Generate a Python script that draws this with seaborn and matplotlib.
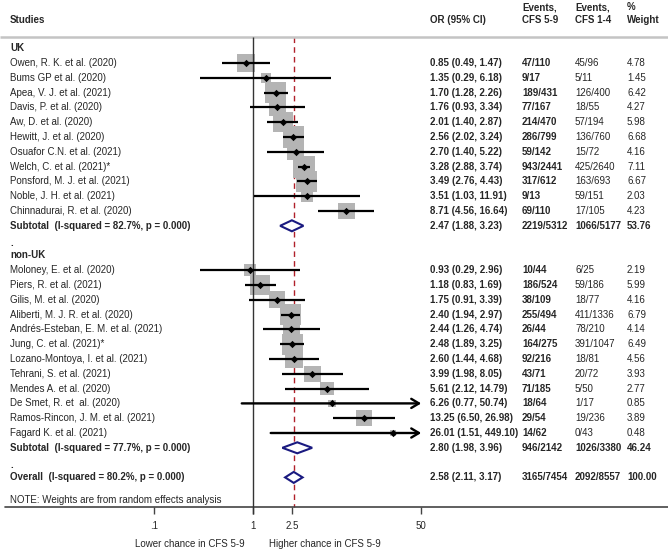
import numpy as np
import pandas as pd
import seaborn as sns
import matplotlib.pyplot as plt
from matplotlib.transforms import blended_transform_factory

# study data

uk_names = ['Owen, R. K. et al. (2020)', 'Bums GP et al. (2020)', 'Apea, V. J. et al. (2021)',
            'Davis, P. et al. (2020)', 'Aw, D. et al. (2020)', 'Hewitt, J. et al. (2020)',
            'Osuafor C.N. et al. (2021)', 'Welch, C. et al. (2021)*', 'Ponsford, M. J. et al. (2021)',
            'Noble, J. H. et al. (2021)', 'Chinnadurai, R. et al. (2020)']
uk_or = [0.85, 1.35, 1.70, 1.76, 2.01, 2.56, 2.70, 3.28, 3.49, 3.51, 8.71]
uk_lo = [0.49, 0.29, 1.28, 0.93, 1.40, 2.02, 1.40, 2.88, 2.76, 1.03, 4.56]
uk_hi = [1.47, 6.18, 2.26, 3.34, 2.87, 3.24, 5.22, 3.74, 4.43, 11.91, 16.64]
uk_ev59 = ['47/110', '9/17', '189/431', '77/167', '214/470', '286/799', '59/142', '943/2441',
           '317/612', '9/13', '69/110']
uk_ev14 = ['45/96', '5/11', '126/400', '18/55', '57/194', '136/760', '15/72', '425/2640',
           '163/693', '59/151', '17/105']
uk_wt = [4.78, 1.45, 6.42, 4.27, 5.98, 6.68, 4.16, 7.11, 6.67, 2.03, 4.23]
uk_sub = ['Subtotal  (I-squared = 82.7%, p = 0.000)', 2.47, 1.88, 3.23, '2219/5312', '1066/5177', 53.76]

non_names = ['Moloney, E. et al. (2020)', 'Piers, R. et al. (2021)', 'Gilis, M. et al. (2020)',
             'Aliberti, M. J. R. et al. (2020)', 'Andrés-Esteban, E. M. et al. (2021)',
             'Jung, C. et al. (2021)*', 'Lozano-Montoya, I. et al. (2021)', 'Tehrani, S. et al. (2021)',
             'Mendes A. et al. (2020)', 'De Smet, R. et  al. (2020)', 'Ramos-Rincon, J. M. et al. (2021)',
             'Fagard K. et al. (2021)']
non_or = [0.93, 1.18, 1.75, 2.40, 2.44, 2.48, 2.60, 3.99, 5.61, 6.26, 13.25, 26.01]
non_lo = [0.29, 0.83, 0.91, 1.94, 1.26, 1.89, 1.44, 1.98, 2.12, 0.77, 6.50, 1.51]
non_hi = [2.96, 1.69, 3.39, 2.97, 4.74, 3.25, 4.68, 8.05, 14.79, 50.74, 26.98, 449.10]
non_ev59 = ['10/44', '186/524', '38/109', '255/494', '26/44', '164/275', '92/216', '43/71',
            '71/185', '18/64', '29/54', '14/62']
non_ev14 = ['6/25', '59/186', '18/77', '411/1336', '78/210', '391/1047', '18/81', '20/72',
            '5/50', '1/17', '19/236', '0/43']
non_wt = [2.19, 5.99, 4.16, 6.79, 4.14, 6.49, 4.56, 3.93, 2.77, 0.85, 3.89, 0.48]
non_sub = ['Subtotal  (I-squared = 77.7%, p = 0.000)', 2.80, 1.98, 3.96, '946/2142', '1026/3380', 46.24]

overall = ['Overall  (I-squared = 80.2%, p = 0.000)', 2.58, 2.11, 3.17, '3165/7454', '2092/8557', 100.00]

tick_vals = [0.1, 1, 2.5, 50]
tick_labels = ['.1', '1', '2.5', '50']

# build table of rows

studies = pd.DataFrame({
    'name': uk_names + non_names,
    'or': uk_or + non_or, 'lo': uk_lo + non_lo, 'hi': uk_hi + non_hi,
    'ev59': uk_ev59 + non_ev59, 'ev14': uk_ev14 + non_ev14, 'wt': uk_wt + non_wt,
    'row': list(range(1, 12)) + list(range(15, 27)),
})
pooled = pd.DataFrame([uk_sub, non_sub, overall],
                      columns=['name', 'or', 'lo', 'hi', 'ev59', 'ev14', 'wt'])
pooled['row'] = [12, 27, 29]

row0, step = 48.2, 14.8
studies['y'] = row0 + step * studies['row']
pooled['y'] = row0 + step * pooled['row']
clip_hi = 50

sns.set_style('white')
plt.rcParams['font.family'] = ['Liberation Sans', 'DejaVu Sans']

W, H = 668, 552
fig = plt.figure(figsize=(W / 100, H / 100), dpi=100)
ax = fig.add_axes([0, 0, 1, 1])
ax.set_xscale('log')
x_one, decade = 253, 99
ax.set_xlim(10 ** (-x_one / decade), 10 ** ((W - x_one) / decade))
ax.set_ylim(H, 0)
ax.axis('off')

fs = 7
tr = blended_transform_factory(ax.transAxes, ax.transData)

def col_text(px, y, s, bold=False, **kw):
    ax.text(px / W, y, s, transform=tr, fontsize=fs, va='center',
            fontweight='bold' if bold else 'normal', **kw)

# header
col_text(10, 20, 'Studies', bold=True)
col_text(430, 20, 'OR (95% CI)', bold=True)
col_text(522, 7, 'Events,', bold=True)
col_text(522, 20, 'CFS 5-9', bold=True)
col_text(575, 7, 'Events,', bold=True)
col_text(575, 20, 'CFS 1-4', bold=True)
col_text(627, 7, '%', bold=True)
col_text(627, 20, 'Weight', bold=True)
ax.plot([0, 1], [37, 37], transform=tr, color='#c4c4c4', lw=1.8, solid_capstyle='butt')

# reference lines
top, base = 37, 507
ax.vlines(1, top, base + 7, color='#333333', lw=1.0, zorder=3)
ax.vlines(overall[1], top, base, color='#b0202a', lw=1.0, linestyles=(0, (4, 3)), zorder=1)

# weight boxes
box_sizes = {w: 35.3 * w for w in studies['wt']}
sns.scatterplot(data=studies, x='or', y='y', size='wt', sizes=box_sizes, marker='s',
                color='#b4b4b4', linewidth=0, legend=False, ax=ax, zorder=2)

# confidence intervals, arrows when clipped
for _, r in studies.iterrows():
    if r['hi'] > clip_hi:
        ax.annotate('', xy=(clip_hi, r['y']), xytext=(r['lo'], r['y']),
                    arrowprops=dict(arrowstyle='->,head_length=0.55,head_width=0.33',
                                    color='black', lw=1.7, shrinkA=0, shrinkB=0), zorder=4)
    else:
        ax.hlines(r['y'], r['lo'], r['hi'], color='black', lw=1.6, zorder=4)

sns.scatterplot(data=studies, x='or', y='y', marker='D', s=14, color='black',
                linewidth=0, legend=False, ax=ax, zorder=5)

# pooled diamonds
for _, r in pooled.iterrows():
    xs = [r['lo'], r['or'], r['hi'], r['or'], r['lo']]
    ys = [r['y'], r['y'] - 5.5, r['y'], r['y'] + 5.5, r['y']]
    ax.fill(xs, ys, facecolor='white', edgecolor='#1a1a80', lw=1.5, zorder=5)

# study columns
for label, y in [('UK', row0), ('non-UK', row0 + step * 14)]:
    col_text(10, y, label, bold=True)
for y in [row0 + step * 13, row0 + step * 28]:
    col_text(10, y + 2, '.', bold=True)

for _, r in studies.iterrows():
    col_text(10, r['y'], r['name'])
    col_text(430, r['y'], f"{r['or']:.2f} ({r['lo']:.2f}, {r['hi']:.2f})", bold=True)
    col_text(522, r['y'], r['ev59'], bold=True)
    col_text(575, r['y'], r['ev14'])
    col_text(627, r['y'], f"{r['wt']:.2f}")

for _, r in pooled.iterrows():
    col_text(10, r['y'], r['name'], bold=True)
    col_text(430, r['y'], f"{r['or']:.2f} ({r['lo']:.2f}, {r['hi']:.2f})", bold=True)
    col_text(522, r['y'], r['ev59'], bold=True)
    col_text(575, r['y'], r['ev14'], bold=True)
    col_text(627, r['y'], f"{r['wt']:.2f}", bold=True)

col_text(10, 500, 'NOTE: Weights are from random effects analysis')

# bottom axis
ax.plot([5 / W, 1], [base, base], transform=tr, color='#444444', lw=1.2)
for v, lab in zip(tick_vals, tick_labels):
    ax.vlines(v, base, base + 7, color='#444444', lw=1.0)
    ax.text(v, 526, lab, fontsize=fs, ha='center', va='center')

col_text(245, 544, 'Lower chance in CFS 5-9', ha='right')
col_text(269, 544, 'Higher chance in CFS 5-9', ha='left')

fig.savefig('out.png', dpi=100)
